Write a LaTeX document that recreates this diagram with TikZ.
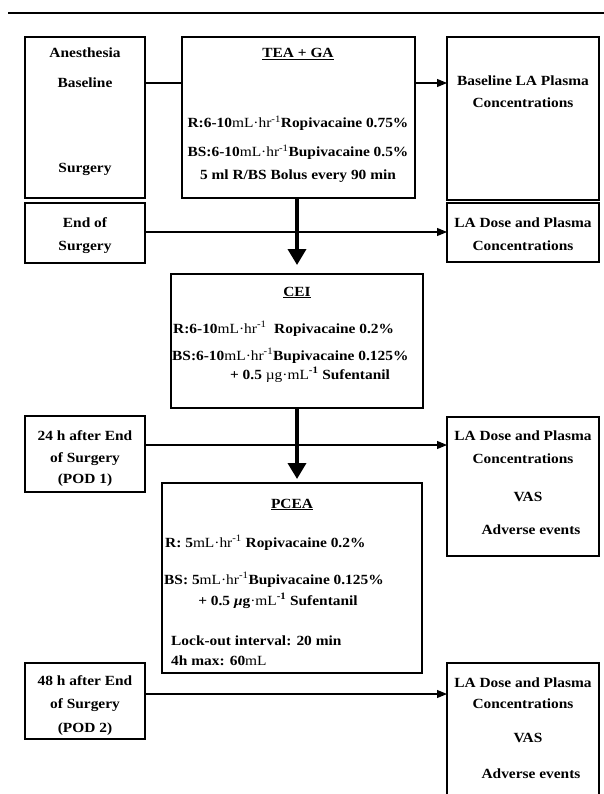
\documentclass[tikz,border=0pt]{standalone}
\usepackage{fontspec}
\setmainfont{Liberation Serif}[FakeStretch=1.1]
\usetikzlibrary{arrows.meta}
\newcommand{\mlhr}{{\mdseries mL·hr}\textsuperscript{\mdseries -1}}
\tikzset{
  box/.style={draw, line width=1.1pt, rectangle, inner sep=0pt, outer sep=0pt, anchor=north west},
  lbl/.style={anchor=base, inner sep=0pt, font=\bfseries\fontsize{14}{16}\selectfont},
  lbll/.style={lbl, anchor=base west},
  conn/.style={line width=1.1pt},
  arr/.style={line width=1.1pt, -{Triangle[width=8pt,length=10pt]}},
  bigarr/.style={line width=3.5pt, -{Triangle[width=18pt,length=16pt]}},
}
\begin{document}
\begin{tikzpicture}[x=1pt,y=-1pt]
\useasboundingbox (0,0) rectangle (604,794);
% top rule
\coordinate (r1) at (8,13);
\coordinate (r2) at (604,13);
\draw[line width=1.5pt] (r1) -- (r2);

% boxes
\node[box, minimum width=120pt, minimum height=161pt] (boxA) at (25,37) {};
\node[box, minimum width=233pt, minimum height=161pt] (tea) at (182,37) {};
\node[box, minimum width=152pt, minimum height=163pt] (base) at (447,37) {};
\node[box, minimum width=120pt, minimum height=60pt] (endb) at (25,203) {};
\node[box, minimum width=152pt, minimum height=59pt] (la2) at (447,203) {};
\node[box, minimum width=252pt, minimum height=134pt] (cei) at (171,274) {};
\node[box, minimum width=120pt, minimum height=76pt] (b24) at (25,416) {};
\node[box, minimum width=152pt, minimum height=139pt] (la3) at (447,417) {};
\node[box, minimum width=260pt, minimum height=190pt] (pcea) at (162,483) {};
\node[box, minimum width=120pt, minimum height=76pt] (b48) at (25,663) {};
\node[box, draw=none, minimum width=152pt, minimum height=131pt] (la4) at (447,663) {};
\draw[line width=1.1pt] (la4.south west) -- (la4.north west) -- (la4.north east) -- (la4.south east);

% labels: box A
\node[lbl] (tA1) at (85,58) {Anesthesia};
\node[lbl] (tA2) at (85,88) {Baseline};
\node[lbl] (tA3) at (85,173) {Surgery};
% TEA + GA
\node[lbl] (tT1) at (298,58) {\underline{TEA + GA}};
\node[lbl] (tT2) at (298,128) {R:6-10\mlhr Ropivacaine 0.75\%};
\node[lbl] (tT3) at (298,157) {BS:6-10\mlhr Bupivacaine 0.5\%};
\node[lbl] (tT4) at (298,180) {5 ml R/BS Bolus every 90 min};
% baseline box
\node[lbl] (tB1) at (523,86) {Baseline LA Plasma};
\node[lbl] (tB2) at (523,108) {Concentrations};
% end of surgery
\node[lbl] (tE1) at (85,227) {End of};
\node[lbl] (tE2) at (85,251) {Surgery};
\node[lbl] (tL21) at (523,227) {LA Dose and Plasma};
\node[lbl] (tL22) at (523,251) {Concentrations};
% CEI
\node[lbl] (tC1) at (297,296) {\underline{CEI}};
\node[lbll] (tC2) at (173,333) {R:6-10\mlhr\ \ Ropivacaine 0.2\%};
\node[lbll] (tC3) at (172,360) {BS:6-10\mlhr Bupivacaine 0.125\%};
\node[lbl] (tC4) at (310,379) {+ 0.5 {\mdseries µg·mL}\textsuperscript{-1} Sufentanil};
% 24 h
\node[lbl] (t241) at (85,440) {24 h after End};
\node[lbl] (t242) at (85,462) {of Surgery};
\node[lbl] (t243) at (85,483) {(POD 1)};
\node[lbl] (tL31) at (523,440) {LA Dose and Plasma};
\node[lbl] (tL32) at (523,463) {Concentrations};
\node[lbl] (tL33) at (528,501) {VAS};
\node[lbl] (tL34) at (531,534) {Adverse events};
% PCEA
\node[lbl] (tP1) at (292,508) {\underline{PCEA}};
\node[lbll] (tP2) at (165,547) {R: 5{\mdseries mL·hr}\textsuperscript{\mdseries -1} Ropivacaine 0.2\%};
\node[lbll] (tP3) at (164,584) {BS: 5{\mdseries mL·hr}\textsuperscript{\mdseries -1}Bupivacaine 0.125\%};
\node[lbl] (tP4) at (278,605) {+ 0.5 {\itshape μ}g{\mdseries ·mL}\textsuperscript{-1} Sufentanil};
\node[lbll] (tP5) at (171,645) {Lock-out interval: 20 min};
\node[lbll] (tP6) at (171,665) {4h max: 60{\mdseries mL}};
% 48 h
\node[lbl] (t481) at (85,685) {48 h after End};
\node[lbl] (t482) at (85,708) {of Surgery};
\node[lbl] (t483) at (85,732) {(POD 2)};
\node[lbl] (tL41) at (523,687) {LA Dose and Plasma};
\node[lbl] (tL42) at (523,708) {Concentrations};
\node[lbl] (tL43) at (528,742) {VAS};
\node[lbl] (tL44) at (531,778) {Adverse events};

% connector levels
\coordinate (yA) at (0,83);
\coordinate (yE) at (0,232);
\coordinate (y24) at (0,445);
\coordinate (y48) at (0,694);

% connectors
\draw[conn] (boxA.east |- yA) -- (tea.west |- yA);
\draw[arr] (tea.east |- yA) -- (base.west |- yA);
\draw[arr] (endb.east |- yE) -- (la2.west |- yE);
\draw[arr] (b24.east |- y24) -- (la3.west |- y24);
\draw[arr] (b48.east |- y48) -- (la4.west |- y48);
\draw[bigarr, shorten >=9pt] (tea.south -| cei.north) -- (cei.north);
\draw[bigarr, shorten >=4pt] (cei.south) -- (cei.south |- pcea.north);
\end{tikzpicture}
\end{document}
